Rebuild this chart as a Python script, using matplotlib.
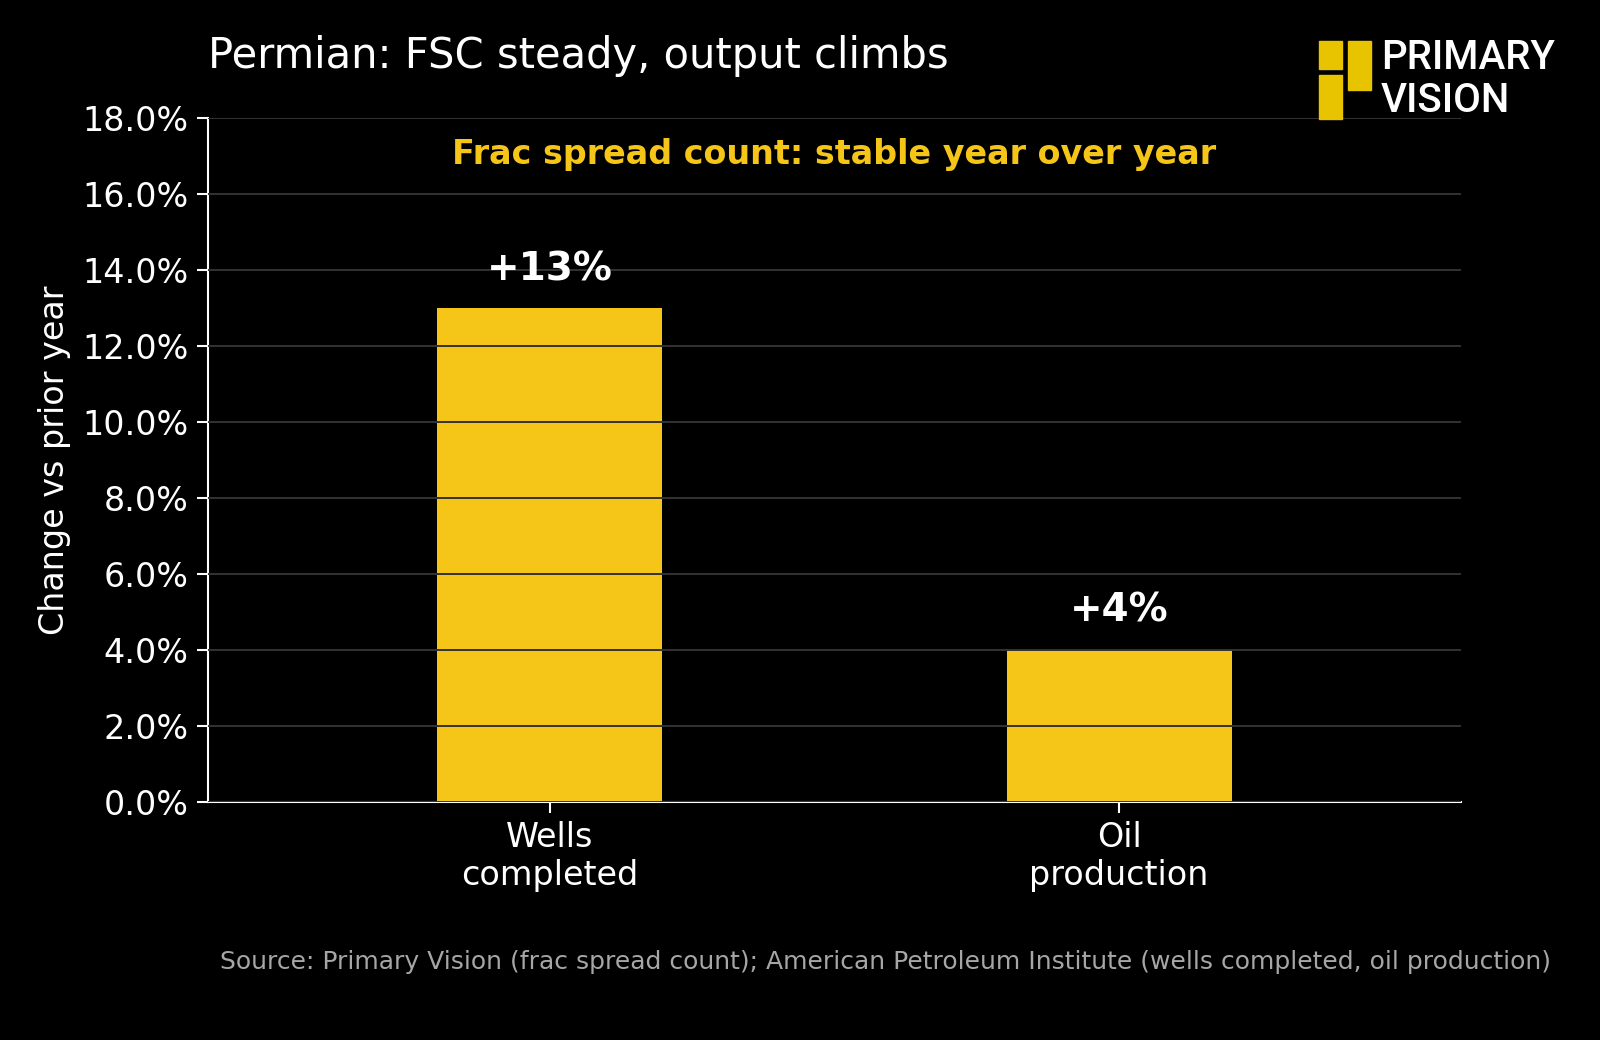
import matplotlib
matplotlib.use('Agg')
import matplotlib.pyplot as plt
import matplotlib.ticker
from matplotlib.patches import Rectangle

# Data
categories = ['Wells\ncompleted', 'Oil\nproduction']
changes = [13.0, 4.0]
bar_labels = ['+13%', '+4%']

title = 'Permian: FSC steady, output climbs'
note = 'Frac spread count: stable year over year'
source = ('Source: Primary Vision (frac spread count); American Petroleum Institute '
          '(wells completed, oil production)')

yellow = '#F5C518'
logo_yellow = '#E8C400'

fig = plt.figure(figsize=(16, 10.4), dpi=100, facecolor='black')
ax = fig.add_axes([0.13, 0.229, 0.783, 0.6575], facecolor='black')

x = range(len(categories))
ax.bar(x, changes, width=0.395, color=yellow, zorder=1)

for xi, v, lab in zip(x, changes, bar_labels):
    ax.annotate(lab, (xi, v), xytext=(0, 28), textcoords='offset points',
                ha='center', va='center', color='white', fontsize=28, fontweight='bold')

ax.set_xlim(-0.6, 1.6)
ax.set_ylim(0, 18)
ax.set_yticks(range(0, 19, 2))
ax.yaxis.set_major_formatter(matplotlib.ticker.FuncFormatter(lambda v, p: '%.1f%%' % v))
ax.set_xticks(list(x))
ax.set_xticklabels(categories)

ax.grid(axis='y', color='#333333', linewidth=1.4, zorder=2)
ax.set_axisbelow(False)

for side in ['top', 'right']:
    ax.spines[side].set_visible(False)
for side in ['left', 'bottom']:
    ax.spines[side].set_color('white')
    ax.spines[side].set_linewidth(1.5)
ax.tick_params(colors='white', labelsize=24, length=8, width=1.5, pad=6)
ax.set_ylabel('Change vs prior year', color='white', fontsize=24, labelpad=8)

ax.text(0.5, 0.947, note, transform=ax.transAxes, ha='center', va='center',
        color=yellow, fontsize=24, fontweight='bold')

fig.text(0.13, 0.946, title, ha='left', va='center', color='white', fontsize=30)
fig.text(0.1375, 0.075, source, ha='left', va='center', color='#a6a6a6', fontsize=18)

# Logo
W, H = 1600.0, 1040.0
for (x0, y0, x1, y1) in [(1319, 41, 1342, 69), (1348, 41, 1371, 90), (1319, 75, 1342, 119)]:
    fig.patches.append(Rectangle((x0 / W, 1 - y1 / H), (x1 - x0) / W, (y1 - y0) / H,
                                 transform=fig.transFigure, color=logo_yellow))
fig.text(1381 / W, 1 - 58 / H, 'PRIMARY', ha='left', va='center', color='white',
         fontsize=29, fontweight='medium', family='Roboto', fontstretch='condensed')
fig.text(1381 / W, 1 - 101 / H, 'VISION', ha='left', va='center', color='white',
         fontsize=29, fontweight='medium', family='Roboto', fontstretch='condensed')

fig.savefig('out.png', dpi=100, facecolor='black')
